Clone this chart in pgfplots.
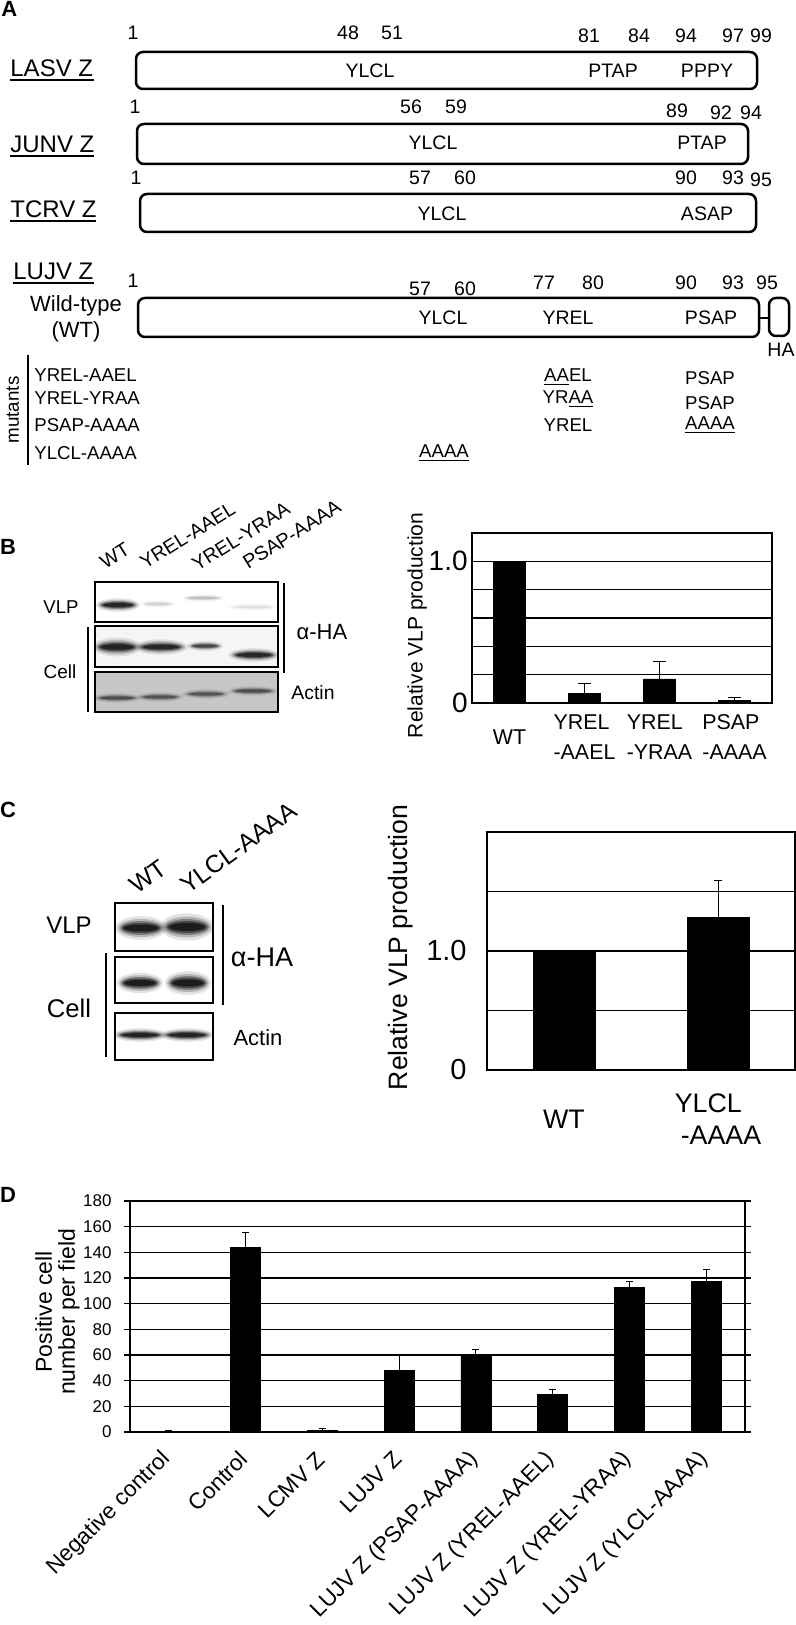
\documentclass[border=0pt]{standalone}
\usepackage{fontspec}
\setmainfont{Liberation Sans}
\usepackage{pgfplots}
\pgfplotsset{compat=1.18}

\newcommand\fs[1]{\fontsize{#1}{1.2\dimexpr#1pt\relax}\selectfont}
% a blurred western-blot band: cx cy rx ry strength
\newcommand\band[5]{%
  \foreach \sx/\sy/\o in {1.22/1.7/0.1,1.1/1.3/0.18,1/1/0.28,0.92/0.75/0.4,0.82/0.5/0.55}{%
    \pgfmathsetmacro\op{\o*#5}%
    \fill[black,opacity=\op] (#1,#2) ellipse ({#3*\sx} and {#4*\sy});}}

\begin{document}
\begin{tikzpicture}
\begin{scope}[x=0.5pt,y=-0.5pt]
\useasboundingbox (0,0) rectangle (796,1625);

% ---------------- panel A ----------------
\node[anchor=north west,inner sep=0pt,font=\fs{11}\bfseries] at (1,1) {A};
\begin{scope}[every node/.style={inner sep=0pt,font=\fs{9.75}}]
  \foreach \t/\x/\y in {1/133/33,48/348/33,51/392/33,81/589/36,84/639/36,94/686/36,97/733/36,99/761/36,
      1/135/107,56/411/107,59/456/107,89/677/111,92/721/113,94/751/113,
      1/136/178,57/420/178,60/465/178,90/686/178,93/733/178,95/761/180,
      1/133/281,57/420/289,60/465/289,77/544/283,80/593/283,90/686/283,93/733/283,95/767/283}
    \node at (\x,\y) {\t};
  \foreach \t/\x/\y in {YLCL/370/71,PTAP/613/71,PPPY/707/71,YLCL/433/143,PTAP/702/143,
      YLCL/442/214,ASAP/707/214,YLCL/443/318,YREL/568/318,PSAP/711/318,HA/781/350}
    \node at (\x,\y) {\t};
\end{scope}
\begin{scope}[line width=1.25pt,rounded corners=3.5pt]
  \draw (136,52) rectangle (757,89);
  \draw (137,124) rectangle (748,164);
  \draw (140,194) rectangle (756,232);
  \draw (138,298) rectangle (759,337);
  \draw (769,298) rectangle (789,336);
\end{scope}
\draw[line width=0.8pt] (759,318) -- (769,318);
\begin{scope}[every node/.style={inner sep=0pt,font=\fs{12},anchor=base west}]
  \node at (10,77) {LASV Z};   \draw[line width=0.8pt] (10,80) -- (94,80);
  \node at (10,153) {JUNV Z};  \draw[line width=0.8pt] (10,156) -- (94,156);
  \node at (10,218) {TCRV Z};  \draw[line width=0.8pt] (10,221) -- (96,221);
  \node at (13,280) {LUJV Z};  \draw[line width=0.8pt] (13,283) -- (94,283);
\end{scope}
\node[inner sep=0pt,font=\fs{11},align=center] at (76,319) {Wild-type\\(WT)};
\draw[line width=0.8pt] (28,355) -- (28,465);
\node[inner sep=0pt,font=\fs{9.4},rotate=90] at (13,410) {mutants};
\begin{scope}[every node/.style={inner sep=0pt,font=\fs{9.3}}]
  \node[anchor=west] at (34,375) {YREL-AAEL};
  \node[anchor=west] at (34,398) {YREL-YRAA};
  \node[anchor=west] at (34,425) {PSAP-AAAA};
  \node[anchor=west] at (34,453) {YLCL-AAAA};
  \node at (568,377) {\underline{AA}EL};
  \node at (568,399) {YR\underline{AA}};
  \node at (568,425) {YREL};
  \node at (710,378) {PSAP};
  \node at (710,403) {PSAP};
  \node at (710,425) {\underline{AAAA}};
  \node at (444,453) {\underline{AAAA}};
\end{scope}

% ---------------- panel B blot ----------------
\node[inner sep=0pt,font=\fs{11}\bfseries] at (8,547) {B};
\fill[black!22] (95,672) rectangle (278,712);
\fill[black!4] (95,626) rectangle (278,667);
\begin{scope}
\clip (95,582) rectangle (278,712);
\band{118}{605}{18}{4}{1}
\band{158}{604}{15}{2.5}{0.12}
\band{203}{598}{18}{2.5}{0.18}
\band{253}{607}{22}{2.5}{0.08}
\band{117}{647}{20}{5.5}{1}
\band{161}{647}{22}{4.5}{0.95}
\band{205}{646}{15}{3}{0.7}
\band{254}{655}{21}{4}{0.95}
\band{117}{698}{20}{3}{0.55}
\band{160}{697}{20}{3}{0.5}
\band{206}{694}{20}{3}{0.5}
\band{253}{691}{21}{3}{0.55}
\end{scope}
\begin{scope}[line width=1.35pt]
  \draw (95,582) rectangle (278,622);
  \draw (95,626) rectangle (278,667);
  \draw (95,672) rectangle (278,712);
\end{scope}
\draw[line width=1pt] (88,627) -- (88,712);
\draw[line width=1pt] (284,583) -- (284,673);
\begin{scope}[every node/.style={inner sep=0pt}]
  \node[font=\fs{9.3}] at (61,607) {VLP};
  \node[font=\fs{9.5}] at (60,672) {Cell};
  \node[font=\fs{11}] at (322,632) {α-HA};
  \node[font=\fs{9.7}] at (313,693) {Actin};
  \foreach \t/\x/\y in {WT/105/570,YREL-AAEL/145/570,YREL-YRAA/197/572,PSAP-AAAA/248/570}
    \node[font=\fs{9.8},rotate=32,anchor=base west] at (\x,\y) {\t};
\end{scope}

% ---------------- panel C blot ----------------
\node[inner sep=0pt,font=\fs{11}\bfseries] at (8,810) {C};
\begin{scope}
\clip (115,903) rectangle (213,1060);
\band{141}{928}{21}{7}{1.1}
\band{187}{927}{22}{8}{1.1}
\band{140}{983}{19}{6}{1.1}
\band{188}{983}{19}{7}{1.1}
\band{140}{1035}{22}{4}{1}
\band{187}{1035}{22}{4}{1}
\end{scope}
\begin{scope}[line width=1.35pt]
  \draw (115,903) rectangle (213,951);
  \draw (115,957) rectangle (213,1003);
  \draw (115,1013) rectangle (213,1060);
\end{scope}
\draw[line width=1pt] (223,905) -- (223,1005);
\draw[line width=1pt] (106,953) -- (106,1057);
\begin{scope}[every node/.style={inner sep=0pt}]
  \node[font=\fs{12}] at (69,925) {VLP};
  \node[font=\fs{12.8}] at (69,1008) {Cell};
  \node[font=\fs{13.5}] at (262,957) {α-HA};
  \node[font=\fs{11}] at (258,1038) {Actin};
  \node[font=\fs{12.4},rotate=36,anchor=base west] at (137,895) {WT};
  \node[font=\fs{12.4},rotate=36,anchor=base west] at (188,895) {YLCL-AAAA};
\end{scope}

\node[inner sep=0pt,font=\fs{11}\bfseries] at (8,1195) {D};
\end{scope}

% ---------------- chart B ----------------
\begin{axis}[at={(236pt,-351.5pt)}, anchor=south west, scale only axis,
  width=150pt, height=85pt,
  xmin=-0.5, xmax=3.5, ymin=0, ymax=1.2,
  xtick={0,1,2,3}, xticklabels={WT,{YREL\\-AAEL},{YREL\\-YRAA},{PSAP\\-AAAA}},
  ytick={0,0.2,0.4,0.6,0.8,1.0,1.2}, yticklabels={0,,,,,1.0,},
  major tick length=0pt,
  ymajorgrids, grid style={black, line width=0.65pt},
  axis line style={black, line width=0.6pt},
  xticklabel style={font=\fontsize{10.7}{15}\selectfont, align=left, anchor=center, yshift=-17pt},
  yticklabel style={font=\fs{14}, anchor=east, inner sep=0pt, xshift=-2pt},
  ylabel={Relative VLP production},
  ylabel style={font=\fs{10.5}, at={(axis description cs:-0.183,0.456)}, anchor=center},
]
\addplot[ybar, bar width=16pt, fill=black, draw=black,
  error bars/.cd, y dir=plus, y explicit,
  error bar style={line width=0.5pt},
  error mark options={rotate=90, mark size=3.25pt, line width=0.5pt}]
  coordinates {(0,1.0) +- (0,0) (1,0.07) +- (0,0.07) (2,0.17) +- (0,0.125) (3,0.021) +- (0,0.017)};
\end{axis}

% ---------------- chart C ----------------
\begin{axis}[at={(243.5pt,-535pt)}, anchor=south west, scale only axis,
  width=154pt, height=119pt,
  xmin=-0.5, xmax=1.5, ymin=0, ymax=2,
  xtick={0,1}, xticklabels={WT,{YLCL\\\hspace*{3pt}-AAAA}},
  ytick={0,0.5,1,1.5,2}, yticklabels={0,,1.0,,},
  major tick length=0pt,
  ymajorgrids, grid style={black, line width=0.6pt},
  axis line style={black, line width=0.6pt},
  xticklabel style={font=\fontsize{13.4}{16}\selectfont, align=left, anchor=center, yshift=-24.5pt},
  yticklabel style={font=\fs{14.5}, anchor=east, inner sep=0pt, xshift=-10pt},
  ylabel={Relative VLP production},
  ylabel style={font=\fs{13.3}, at={(axis description cs:-0.279,0.515)}, anchor=center},
]
\addplot[ybar, bar width=31pt, fill=black, draw=black,
  error bars/.cd, y dir=plus, y explicit,
  error bar style={line width=0.5pt},
  error mark options={rotate=90, mark size=2pt, line width=0.5pt}]
  coordinates {(0,1.0) +- (0,0) (1,1.28) +- (0,0.31)};
\end{axis}

% ---------------- chart D ----------------
\begin{axis}[at={(65pt,-716pt)}, anchor=south west, scale only axis,
  width=307.5pt, height=115.5pt,
  xmin=-0.5, xmax=7.5, ymin=0, ymax=180,
  ytick={0,20,...,180},
  xtick={0,...,7},
  xticklabels={Negative control,Control,LCMV Z,LUJV Z,LUJV Z (PSAP-AAAA),LUJV Z (YREL-AAEL),LUJV Z (YREL-YRAA),LUJV Z (YLCL-AAAA)},
  xticklabel style={font=\fs{11.3}, rotate=45, anchor=east, inner sep=1pt},
  xticklabel shift=8pt,
  x tick style={draw=none},
  y tick style={black, line width=0.6pt},
  tick align=outside, major tick length=3pt,
  ymajorgrids, grid style={black, line width=0.6pt},
  axis line style={black, line width=0.6pt},
  yticklabel style={font=\fs{8.5}, inner sep=0pt, xshift=-6pt, /pgf/number format/assume math mode=true},
  ylabel={Positive cell\\number per field},
  ylabel style={align=center, font=\fontsize{11.5}{11.5}\selectfont, at={(axis description cs:-0.118,0.52)}, anchor=center},
]
\addplot[ybar, bar width=15pt, fill=black, draw=black,
  error bars/.cd, y dir=plus, y explicit,
  error bar style={line width=0.5pt},
  error mark options={rotate=90, mark size=1.75pt, line width=0.5pt}]
  coordinates {(0,0.5) +- (0,0.3) (1,144) +- (0,11.5) (2,1.5) +- (0,1) (3,48) +- (0,12.5)
               (4,59) +- (0,5) (5,29.5) +- (0,4) (6,113) +- (0,4.5) (7,117) +- (0,9.5)};
\end{axis}
\end{tikzpicture}
\end{document}
